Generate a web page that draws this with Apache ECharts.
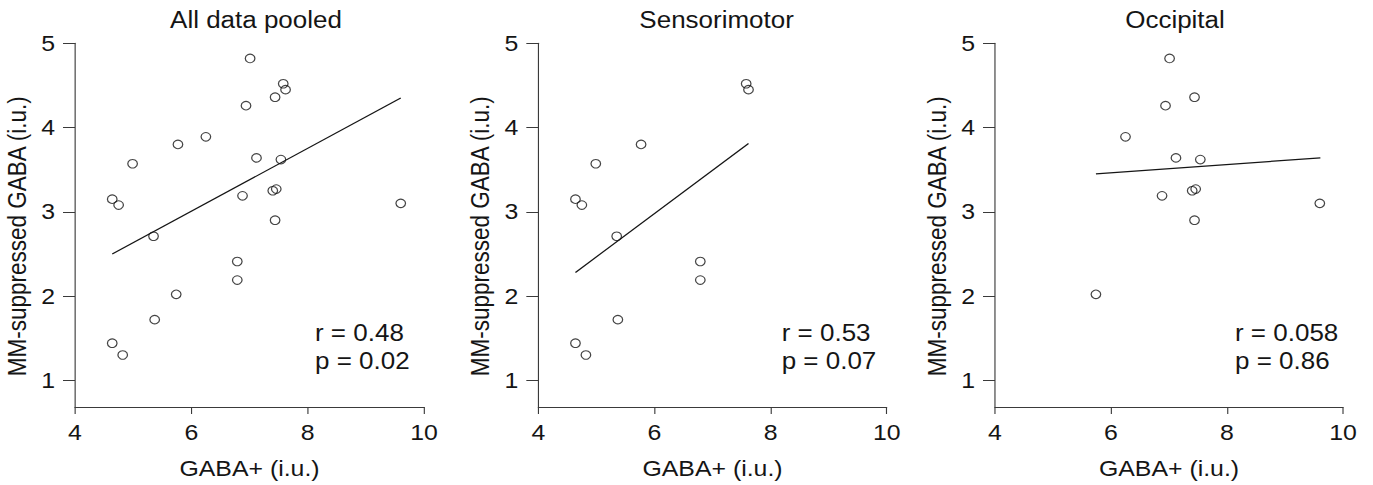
<!DOCTYPE html>
<html><head><meta charset="utf-8">
<script src="https://cdn.jsdelivr.net/npm/echarts@6/dist/echarts.min.js"></script>
<style>
html,body{margin:0;padding:0;background:#fff;overflow:hidden;width:1373px;height:485px}
#wrap{width:1373px;height:485px;overflow:hidden}
#chart{width:1215px;height:485px;transform:scaleX(1.13);transform-origin:0 0}
</style></head><body><div id="wrap"><div id="chart"></div></div>
<script>
// ---- data ----
const panelTitles = ['All data pooled', 'Sensorimotor', 'Occipital'];
const statsText = [['r = 0.48', 'p = 0.02'], ['r = 0.53', 'p = 0.07'], ['r = 0.058', 'p = 0.86']];
const xTicks = [4, 6, 8, 10];
const yTicks = [1, 2, 3, 4, 5];
const xName = 'GABA+ (i.u.)';
const yName = 'MM-suppressed GABA (i.u.)';

// Sensorimotor subjects (GABA+, MM-suppressed GABA)
const sensX = [7.58, 7.62, 5.77, 4.99, 4.64, 4.75, 5.35, 6.79, 6.79, 5.37, 4.64, 4.82];
const sensY = [4.52, 4.45, 3.80, 3.57, 3.15, 3.08, 2.71, 2.41, 2.19, 1.72, 1.44, 1.30];
// Occipital subjects
const occX = [7.01, 7.44, 6.94, 6.25, 7.12, 7.54, 6.88, 7.40, 7.46, 7.44, 9.60, 5.74];
const occY = [4.82, 4.36, 4.26, 3.89, 3.64, 3.62, 3.19, 3.25, 3.27, 2.90, 3.10, 2.02];

// Fitted regression lines (end points)
const fitPooledX = [4.64, 9.60];
const fitPooledY = [2.50, 4.35];
const fitSensX = [4.64, 7.62];
const fitSensY = [2.28, 3.81];
const fitOccX = [5.74, 9.61];
const fitOccY = [3.45, 3.64];

// ---- layout ----
const S = 1.13; // horizontal stretch of the reference
const FONT = "'Liberation Sans', Arial, Helvetica, sans-serif";
const plotAbs = [[75, 424], [538.3, 886.7], [995, 1343]];
const titleCenterAbs = [256, 716.6, 1175];
const statsLeftAbs = [315, 781.7, 1235];
const AX = '#3a3a3a', INK = '#151515';

const zip = (xs, ys) => xs.map((x, i) => [x, ys[i]]);
const panels = [
  { pts: zip(sensX.concat(occX), sensY.concat(occY)), fit: zip(fitPooledX, fitPooledY) },
  { pts: zip(sensX, sensY), fit: zip(fitSensX, fitSensY) },
  { pts: zip(occX, occY), fit: zip(fitOccX, fitOccY) }
];

const grid = [], xAxis = [], yAxis = [], series = [], title = [];
panels.forEach((p, i) => {
  const [l, r] = plotAbs[i];
  grid.push({ left: l / S, width: (r - l) / S, top: 43.3, height: 363.7 });
  xAxis.push({
    gridIndex: i, type: 'value', min: xTicks[0], max: xTicks[xTicks.length - 1], interval: 2,
    splitLine: { show: false },
    axisLine: { onZero: false, lineStyle: { color: AX, width: 1 } },
    axisTick: { length: 7, lineStyle: { color: AX, width: 1 } },
    axisLabel: { fontSize: 22, color: INK, margin: 14, fontFamily: FONT },
    name: xName, nameLocation: 'middle', nameGap: 50,
    nameTextStyle: { fontSize: 22, color: INK, fontFamily: FONT }
  });
  yAxis.push({
    gridIndex: i, type: 'value', min: 0.683, max: 5,
    splitLine: { show: false },
    axisLine: { onZero: false, lineStyle: { color: AX, width: 1 } },
    axisTick: { length: 10.6, customValues: yTicks, lineStyle: { color: AX, width: 1 } },
    axisLabel: { fontSize: 22, color: INK, margin: 17.7, customValues: yTicks, fontFamily: FONT },
    name: yName, nameLocation: 'middle', nameGap: 40,
    nameTextStyle: { fontSize: 22.5, color: INK, fontFamily: FONT, padding: [0, 22, 0, 0] }
  });
  series.push({
    type: 'scatter', xAxisIndex: i, yAxisIndex: i, data: p.pts,
    symbol: 'circle', symbolSize: 8.5,
    itemStyle: { color: 'rgba(0,0,0,0)', borderColor: INK, borderWidth: 1.1 }
  });
  series.push({
    type: 'line', xAxisIndex: i, yAxisIndex: i, data: p.fit,
    symbol: 'none', silent: true,
    lineStyle: { color: INK, width: 1.2 }
  });
  title.push({
    text: panelTitles[i], left: titleCenterAbs[i] / S, top: 9, textAlign: 'center', padding: 0,
    textStyle: { fontSize: 23, fontWeight: 'normal', color: INK, fontFamily: FONT }
  });
  title.push({
    text: statsText[i].join('\n'), left: statsLeftAbs[i] / S, top: 319, padding: 0,
    textStyle: { fontSize: 23, fontWeight: 'normal', color: INK, fontFamily: FONT, lineHeight: 28.3 }
  });
});

const chart = echarts.init(document.getElementById('chart'), null, { renderer: 'svg', width: 1215, height: 485 });
chart.setOption({
  animation: false,
  backgroundColor: '#fff',
  textStyle: { fontFamily: FONT },
  title, grid, xAxis, yAxis, series
});
</script></body></html>
